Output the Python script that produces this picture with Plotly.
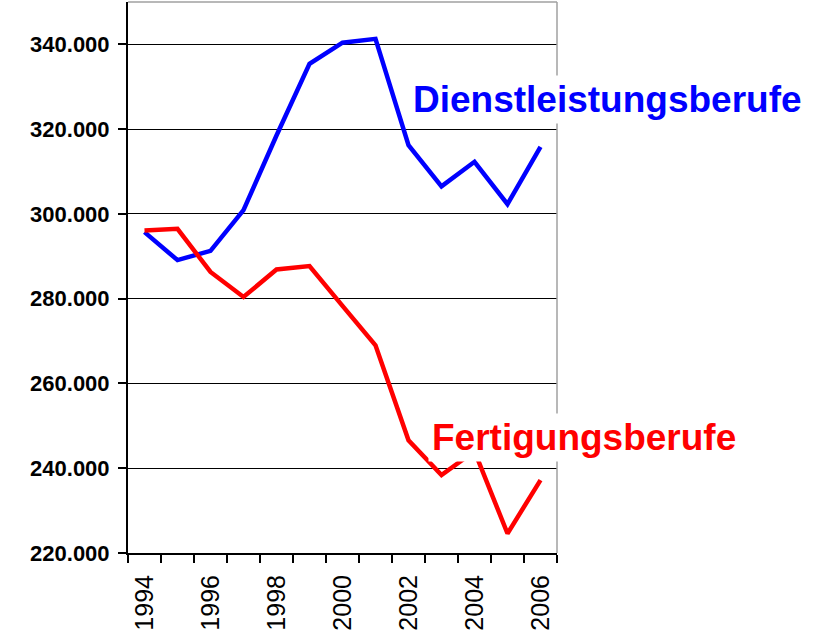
import plotly.graph_objects as go

years = list(range(1994, 2007))
dienst = [295700, 289100, 291300, 300900, 318500, 335400, 340400, 341300, 316200, 306500, 312300, 302300, 315800]
fertig = [296100, 296500, 286300, 280400, 286900, 287700, 278300, 269000, 246600, 238400, 244000, 224600, 237200]
label_years = [1994, 1996, 1998, 2000, 2002, 2004, 2006]
y_ticks = [220000, 240000, 260000, 280000, 300000, 320000, 340000]

FONT = "Liberation Sans, Arial, sans-serif"

fig = go.Figure()
fig.add_trace(go.Scatter(x=years, y=dienst, mode="lines",
                         line=dict(color="#0000FF", width=4.5), showlegend=False))
fig.add_trace(go.Scatter(x=years, y=fertig, mode="lines",
                         line=dict(color="#FF0000", width=4.5), showlegend=False))

fig.update_layout(
    width=821, height=634,
    margin=dict(l=128, r=264, t=2, b=81),
    paper_bgcolor="white", plot_bgcolor="white",
    separators=",.",
    xaxis=dict(range=[1993.5, 2006.5], tickvals=label_years,
               ticktext=[str(y) for y in label_years], tickangle=-90,
               ticks="", showgrid=False, zeroline=False, automargin=False,
               showline=True, linecolor="black", linewidth=2,
               tickfont=dict(family=FONT, size=25, color="black"),
               ticklabelstandoff=10,
               minor=dict(tickvals=[y - 0.5 for y in years] + [2006.5],
                          ticks="outside", ticklen=8, tickcolor="black",
                          tickwidth=1.5, showgrid=False)),
    yaxis=dict(range=[220000, 350000], tickvals=y_ticks, tickformat=",d",
               ticks="outside", ticklen=8, tickcolor="black", tickwidth=1.5,
               showgrid=True, gridcolor="black", gridwidth=1.3, automargin=False,
               zeroline=False, showline=True, linecolor="black", linewidth=2,
               tickfont=dict(family=FONT, size=22, color="black", weight="bold"),
               ticklabelstandoff=4),
    shapes=[
        dict(type="line", xref="paper", yref="paper", x0=0, x1=1, y0=1, y1=1,
             line=dict(color="#a0a0a0", width=1.5)),
        dict(type="line", xref="paper", yref="paper", x0=1, x1=1, y0=0, y1=1,
             line=dict(color="#a0a0a0", width=1.5)),
    ],
    annotations=[
        dict(text="Dienstleistungsberufe", xref="paper", yref="paper",
             x=1.1177, y=0.823, xanchor="center", yanchor="middle",
             showarrow=False, bgcolor="white", borderpad=3,
             font=dict(family=FONT, size=37, color="#0000FF", weight="bold")),
        dict(text="Fertigungsberufe", xref="paper", yref="paper",
             x=1.063, y=0.2096, xanchor="center", yanchor="middle",
             showarrow=False, bgcolor="white", borderpad=3,
             font=dict(family=FONT, size=37, color="#FF0000", weight="bold")),
    ],
)

fig.write_html("out.html", config={"displayModeBar": False},
               post_script="document.body.style.margin='0px';document.body.style.overflow='hidden';")
